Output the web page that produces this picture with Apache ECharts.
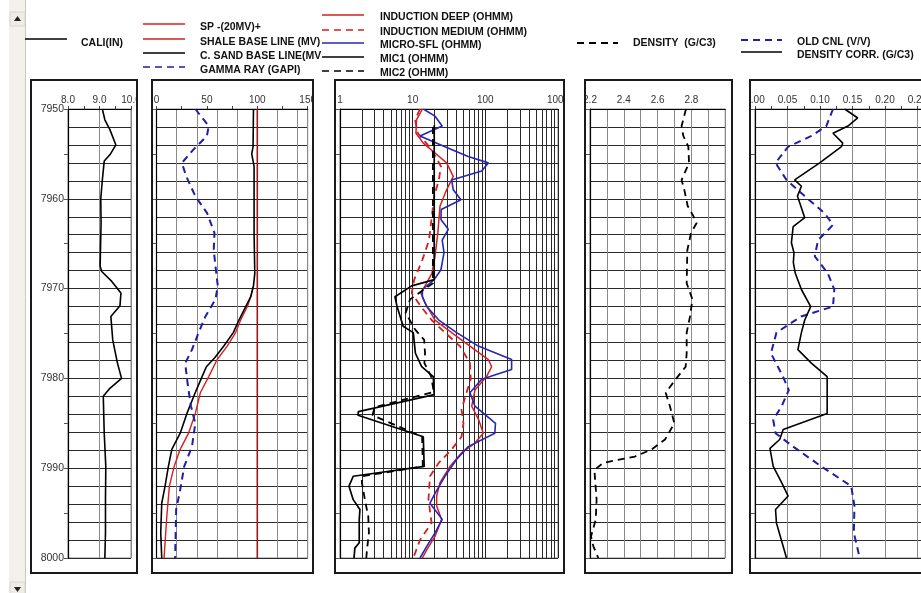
<!DOCTYPE html>
<html><head><meta charset="utf-8">
<script src="https://cdn.jsdelivr.net/npm/echarts@6/dist/echarts.min.js"></script>
<style>html,body{margin:0;padding:0;background:#fff}#c{width:921px;height:593px}</style>
</head><body><div id="c"></div>
<script>
// ---------- DATA ----------
const depthMin = 7950, depthMax = 8000;

const caliDepth = [7950.0,7951.2,7952.3,7954.0,7955.1,7955.8,7957.9,7960.0,7962.7,7967.5,7968.1,7969.2,7970.5,7971.9,7973.1,7975.7,7978.3,7980.0,7981.1,7982.0,7986.1,7989.8,7993.5,7997.2,8000.0];
const caliVal   = [9.09,9.17,9.33,9.52,9.33,9.15,9.09,9.04,9.05,9.02,9.07,9.39,9.68,9.65,9.36,9.42,9.57,9.70,9.33,9.12,9.15,9.20,9.19,9.19,9.17];

const grDepth = [7950.0,7951.9,7953.0,7954.5,7956.0,7957.5,7959.7,7961.6,7963.8,7965.7,7967.5,7969.7,7971.2,7973.1,7974.9,7976.8,7978.3,7980.0,7981.3,7983.1,7985.0,7987.6,7989.8,7992.4,7994.6,8000.0];
const grVal   = [38.5,51.8,50,36.8,25.2,29.5,38.5,50.2,57.5,56.8,58.5,60.8,58.5,48.5,41.8,35.2,28.5,30.2,31.8,34.2,38.5,35.2,27.5,23.5,19.5,18.5];

const sandDepth = [7950.0,7954.2,7955.0,7955.6,7956.4,7963.8,7968.3,7969.7,7970.9,7972.0,7973.5,7974.9,7976.4,7977.7,7978.7,7979.8,7981.3,7983.9,7986.1,7987.9,7989.8,7992.0,7993.9,7997.2,8000.0];
const sandVal   = [96.2,95.8,94.5,95.5,96.8,96.8,97.5,96.2,93.5,88.5,81.8,76.2,66.8,57.8,49.5,45.2,39.5,30.2,23.5,15.2,11.8,8.5,5.2,4.2,5.2];

const spDepth = [7969.7,7970.9,7972.0,7973.5,7974.9,7976.4,7977.9,7979.8,7981.6,7983.9,7986.1,7987.9,7989.8,7992.0,7995.4,8000.0];
const spVal   = [96.2,93.5,90.2,83.5,78.5,70.2,60.2,51.8,43.5,38.5,31.8,23.5,17.5,12.8,10.2,7.5];

const shaleDepth = [7950, 8000];
const shaleVal   = [100, 100];

const ildDepth = [7950.0,7951.2,7952.7,7953.8,7954.9,7956.0,7957.5,7959.0,7960.8,7963.8,7966.4,7968.3,7969.7,7970.5,7971.6,7973.5,7974.9,7976.4,7977.9,7978.7,7979.8,7981.3,7983.1,7984.6,7986.1,7987.2,7988.3,7989.8,7991.6,7993.1,7994.2,7995.7,7997.6,7999.1,8000.0];
const ildVal   = [13.6,11.3,11.1,14,20.3,29.3,36.2,29.3,23.8,22.2,20.3,18.4,14.8,13,14.8,20.3,34.4,61.4,110,122,104,72,65,81,93.6,72,47,32.6,23.8,21.4,21.4,25,20.3,15.6,13.6];

const ilmDepth = [7950.0,7951.2,7952.7,7954.5,7956.4,7957.9,7959.7,7961.9,7964.6,7966.8,7969.0,7970.5,7972.0,7973.5,7974.9,7976.4,7978.3,7980.1,7981.6,7983.5,7985.0,7986.5,7987.9,7989.4,7990.9,7993.5,7996.1,7998.0,8000.0];
const ilmVal   = [12.6,10.8,11.8,18.2,24.5,22.9,19.8,18.4,16.8,13.6,10.5,9.7,13,18.2,27.8,44.7,61.4,63,55,47,50,47,34.4,22.9,17.3,16.5,18.2,12.6,10.2];

const msflDepth = [7950.0,7950.8,7951.9,7953.0,7954.2,7955.3,7956.0,7956.9,7957.9,7959.0,7960.1,7961.2,7962.3,7963.4,7964.6,7966.0,7967.9,7969.0,7970.1,7970.9,7972.0,7973.5,7974.9,7976.4,7977.9,7979.0,7980.1,7981.6,7983.1,7985.0,7986.1,7987.6,7989.0,7990.9,7992.8,7993.9,7995.7,7997.2,7998.7,8000.0];
const msflVal   = [14,20.3,25.5,12.6,27.8,58.2,110,89,34.4,36.2,46.2,24.7,24.5,30.9,25.5,27,24.5,19.8,13.6,13.6,15.6,22.9,40.3,80,230,230,89,61.4,72,138,135,58.2,40.3,27.8,20.3,17.3,25.5,20.3,15.6,12.6];

const mic1Depth = [7951.8,7969.0,7969.7,7970.9,7972.0,7974.2,7974.9,7977.2,7978.7,7979.8,7981.8,7983.7,7984.1,7986.5,7989.8,7990.9,7992.0,7993.5,7994.6,7995.7,7998.3,7998.9,8000.0];
const mic1Val   = [19.8,19.8,9.7,5.7,6.1,7.4,10.2,10.9,13.3,19.2,19.8,1.79,1.77,14,14.4,1.52,1.33,1.52,1.88,1.84,1.84,1.6,1.56];

const mic2Depth = [7952.0,7969.4,7971.2,7972.7,7974.6,7975.7,7977.2,7978.3,7979.8,7981.5,7983.2,7984.1,7986.5,7989.8,7990.9,7991.6,7993.5,7995.4,7997.2,7999.1,8000.0];
const mic2Val   = [19.0,19.0,9.2,8.0,10.9,14.4,14.8,14.5,18,19.5,3.0,2.8,13.5,13.8,2.0,2.0,2.2,2.45,2.5,2.35,2.3];

const rhobDepth = [7950.0,7951.9,7953.0,7954.2,7956.0,7957.9,7959.0,7960.8,7961.9,7962.7,7963.8,7965.7,7969.4,7971.2,7973.1,7974.9,7977.2,7978.7,7980.1,7981.6,7983.1,7985.0,7986.8,7987.9,7988.7,7989.4,7990.2,7993.5,7995.7,7997.6,7998.7,8000.0];
const rhobVal   = [2.768,2.742,2.752,2.782,2.786,2.742,2.758,2.778,2.811,2.831,2.798,2.776,2.772,2.806,2.792,2.772,2.772,2.766,2.707,2.648,2.673,2.699,2.644,2.565,2.466,2.279,2.226,2.239,2.234,2.206,2.22,2.249];

const cnlDepth = [7950.0,7951.9,7953.0,7954.2,7956.0,7957.9,7959.7,7961.6,7962.9,7964.6,7966.4,7968.3,7970.1,7972.0,7973.1,7974.9,7977.2,7979.8,7981.3,7983.1,7984.6,7986.1,7987.6,7989.8,7992.0,7994.2,7997.2,7998.7,8000.0];
const cnlVal   = [0.12,0.1097,0.0867,0.051,0.0316,0.0485,0.0765,0.107,0.12,0.097,0.092,0.112,0.122,0.12,0.071,0.033,0.0245,0.043,0.052,0.041,0.028,0.0316,0.0587,0.102,0.148,0.153,0.152,0.157,0.161];

const dcorDepth = [7950.0,7951.0,7951.9,7952.7,7953.8,7954.2,7956.0,7957.9,7958.6,7959.7,7962.1,7963.1,7964.9,7966.0,7967.1,7968.3,7970.1,7972.0,7973.5,7974.9,7976.8,7978.3,7979.8,7983.9,7985.7,7986.8,7987.8,7989.8,7991.6,7993.1,7994.6,7996.1,8000.0];
const dcorVal   = [0.138,0.158,0.143,0.12,0.135,0.133,0.0995,0.061,0.0714,0.0653,0.0765,0.0587,0.056,0.060,0.059,0.062,0.0714,0.0857,0.0765,0.0714,0.066,0.0867,0.111,0.111,0.0434,0.038,0.023,0.028,0.041,0.051,0.0316,0.033,0.0485];

const logMinorTicks = [2,3,4,5,6,7,8,9,20,30,40,50,60,70,80,90,200,300,400,500,600,700,800,900];

const legendCali  = ['CALI(IN)'];
const legendSP    = ['SP -(20MV)+','SHALE BASE LINE (MV)','C. SAND BASE LINE(MV','GAMMA RAY (GAPI)'];
const legendRes   = ['INDUCTION DEEP (OHMM)','INDUCTION MEDIUM (OHMM)','MICRO-SFL (OHMM)','MIC1 (OHMM)','MIC2 (OHMM)'];
const legendDen   = ['DENSITY  (G/C3)'];
const legendNeu   = ['OLD CNL (V/V)','DENSITY CORR. (G/C3)'];

// ---------- BUILD ----------
const pairs = (vals, depths) => vals.map((v, i) => [v, depths[i]]);
const RED = '#D42020', DRED = '#A81414', BLUE = '#1E1EAA', BLK = '#000';
const labelFont = {fontFamily: 'Liberation Sans, Arial, sans-serif', fontSize: 10, color: '#333'};

const gridTop = 109, gridH = 449;
const grids = [
  {left: 68, width: 63},
  {left: 156.5, width: 151.2},
  {left: 340, width: 218},
  {left: 590, width: 135.2},
  {left: 755, width: 195}
].map(g => Object.assign({top: gridTop, height: gridH, show: true, borderColor: '#888', borderWidth: 1, backgroundColor: 'transparent', containLabel: false, outerBoundsMode: 'none'}, g));

const xA = (gi, o) => Object.assign({
  gridIndex: gi, type: 'value', position: 'top',
  axisLine: {show: true, onZero: false, lineStyle: {color: '#000', width: 1.2}},
  axisTick: {show: true, length: 3, lineStyle: {color: '#444'}},
  axisLabel: Object.assign({margin: 4}, labelFont),
  splitLine: {show: false}
}, o);
const xB = (gi, o) => Object.assign({
  gridIndex: gi, type: 'value', position: 'top',
  axisLine: {show: false}, axisTick: {show: false}, axisLabel: {show: false},
  splitLine: {show: true, lineStyle: {color: '#8a8a8a', width: 1}}
}, o);

const xAxes = [
  xA(0, {min: 8, max: 10, interval: 0.5, axisLabel: Object.assign({margin: 4, formatter: v => Math.abs(v - Math.round(v)) < 1e-6 ? v.toFixed(1) : ''}, labelFont)}),
  xB(0, {min: 8, max: 10, interval: 1}),
  xA(1, {min: 0, max: 150, interval: 25, axisLabel: Object.assign({margin: 4, formatter: v => (Math.round(v) % 50 === 0) ? String(Math.round(v)) : ''}, labelFont)}),
  xB(1, {min: 0, max: 150, interval: 20}),
  xA(2, {type: 'log', logBase: 10, min: 1, max: 1000, axisTick: {show: false},
         splitLine: {show: true, lineStyle: {color: '#222', width: 1}},
         axisLabel: Object.assign({margin: 4, formatter: v => String(Math.round(v))}, labelFont)}),
  xA(3, {min: 2.2, max: 3.0, interval: 0.1, axisTick: {show: false},
         splitLine: {show: true, lineStyle: {color: '#8a8a8a', width: 1}},
         axisLabel: Object.assign({margin: 4, formatter: v => { const k = Math.round(v * 10); return (k % 2 === 0 && k < 30) ? (k / 10).toFixed(1) : ''; }}, labelFont)}),
  xA(4, {min: 0, max: 0.3, interval: 0.025, axisLabel: Object.assign({margin: 4, formatter: v => { const k = Math.round(v * 1000); return k % 50 === 0 ? (k / 1000).toFixed(2) : ''; }}, labelFont)}),
  xB(4, {min: 0, max: 0.3, interval: 0.05})
];

const yAxes = [];
for (let i = 0; i < 5; i++) {
  yAxes.push({
    gridIndex: i, type: 'value', inverse: true, min: depthMin, max: depthMax, interval: 2, position: 'left',
    axisLine: {show: true, onZero: false, lineStyle: {color: '#000', width: 1.2}},
    axisTick: {show: false}, axisLabel: {show: false},
    splitLine: {show: true, lineStyle: {color: '#2a2a2a', width: 1}}
  });
}
for (let i = 0; i < 5; i++) {
  yAxes.push({
    gridIndex: i, type: 'value', inverse: true, min: depthMin, max: depthMax, interval: 5, position: 'left',
    axisLine: {show: false},
    axisTick: {show: true, length: 4, lineStyle: {color: '#555'}},
    axisLabel: i === 0 ? Object.assign({margin: 4, formatter: v => (Math.round(v) % 10 === 0 ? String(Math.round(v)) : '')}, labelFont, {fontSize: 10.5}) : {show: false},
    splitLine: {show: false}
  });
}

const line = (name, data, xi, yi, color, width, dash) => ({
  name, type: 'line', data, xAxisIndex: xi, yAxisIndex: yi,
  showSymbol: false, symbol: 'none', animation: false, silent: true, z: 5,
  lineStyle: {color, width, type: dash ? [7, 5] : 'solid'}
});

const series = [
  line('CALI', pairs(caliVal, caliDepth), 0, 0, BLK, 1.6),
  line('SHALE', pairs(shaleVal, shaleDepth), 2, 1, DRED, 1.6),
  line('SP', pairs(spVal, spDepth), 2, 1, RED, 1.4),
  line('SAND', pairs(sandVal, sandDepth), 2, 1, BLK, 1.6),
  line('GR', pairs(grVal, grDepth), 2, 1, BLUE, 2, true),
  {
    name: 'loggrid', type: 'line', data: [], xAxisIndex: 4, yAxisIndex: 2, silent: true, animation: false, z: 1,
    markLine: {silent: true, animation: false, symbol: ['none', 'none'], label: {show: false},
      lineStyle: {color: '#2a2a2a', width: 1, type: 'solid'}, emphasis: {disabled: true},
      data: logMinorTicks.map(v => ({xAxis: v}))}
  },
  line('ILM', pairs(ilmVal, ilmDepth), 4, 2, RED, 1.8, true),
  line('ILD', pairs(ildVal, ildDepth), 4, 2, RED, 1.5),
  line('MSFL', pairs(msflVal, msflDepth), 4, 2, '#2626B8', 1.6),
  line('MIC2', pairs(mic2Val, mic2Depth), 4, 2, BLK, 1.8, true),
  line('MIC1', pairs(mic1Val, mic1Depth), 4, 2, BLK, 1.7),
  line('RHOB', pairs(rhobVal, rhobDepth), 5, 3, BLK, 1.8, true),
  line('CNL', pairs(cnlVal, cnlDepth), 6, 4, BLUE, 2, true),
  line('DCOR', pairs(dcorVal, dcorDepth), 6, 4, BLK, 1.6)
];

// ---------- GRAPHICS (frames, header legend, scrollbar) ----------
const txtStyle = {fontFamily: 'Liberation Sans, Arial, sans-serif', fontSize: 10.5, fontWeight: 'bold', fill: '#111', verticalAlign: 'middle'};
const g = [];
const seg = (x1, y1, x2, y2, color, w, dash) => g.push({type: 'line', z: 120, shape: {x1, y1, x2, y2}, style: {stroke: color, lineWidth: w, lineDash: dash ? [7, 5] : null}});
const txt = (x, y, t) => g.push({type: 'text', z: 120, x, y, style: Object.assign({text: t}, txtStyle)});

// scrollbar
g.push({type: 'rect', z: 110, shape: {x: 9, y: 0, width: 16, height: 593}, style: {fill: '#F3F1EA', stroke: null}});
g.push({type: 'line', z: 111, shape: {x1: 25.5, y1: 0, x2: 25.5, y2: 593}, style: {stroke: '#C8C6BE', lineWidth: 1}});
g.push({type: 'rect', z: 111, shape: {x: 10, y: 12, width: 15, height: 14}, style: {fill: '#EEECE4', stroke: '#D8D6CE'}});
g.push({type: 'polygon', z: 112, shape: {points: [[14, 21], [21, 21], [17.5, 16]]}, style: {fill: '#222'}});
g.push({type: 'rect', z: 111, shape: {x: 10, y: 582, width: 15, height: 14}, style: {fill: '#EEECE4', stroke: '#D8D6CE'}});
g.push({type: 'polygon', z: 112, shape: {points: [[14, 587], [21, 587], [17.5, 592]]}, style: {fill: '#222'}});

// masks for clipped header labels
[[26, 31], [137, 152], [313, 335], [564, 585], [732, 750]].forEach(([a, b]) =>
  g.push({type: 'rect', z: 100, shape: {x: a, y: 82, width: b - a, height: 26}, style: {fill: '#fff'}}));

// frames
[[31, 137], [152, 313], [335, 564], [585, 732], [750, 960]].forEach(([a, b]) =>
  g.push({type: 'rect', z: 101, shape: {x: a, y: 80, width: b - a, height: 493}, style: {fill: null, stroke: '#1a1a1a', lineWidth: 2}}));

// legend
seg(25, 39, 67, 39, BLK, 1.6); txt(81, 43, legendCali[0]);
const spCols = [[RED, false], [RED, false], [BLK, false], [BLUE, true]];
[24, 39, 53, 67].forEach((y, i) => { seg(143, y, 185, y, spCols[i][0], 1.6, spCols[i][1]); txt(200, y + 3, legendSP[i]); });
const resCols = [[RED, false], [RED, true], ['#2626B8', false], [BLK, false], [BLK, true]];
[15, 30, 43, 57, 71].forEach((y, i) => { seg(322, y, 364, y, resCols[i][0], 1.6, resCols[i][1]); txt(380, y + 2.5, legendRes[i]); });
seg(577, 43, 618, 43, BLK, 1.8, true); txt(633, 43.5, legendDen[0]);
seg(741, 40, 782, 40, BLUE, 2, true); txt(797, 42, legendNeu[0]);
seg(741, 52, 782, 52, BLK, 1.6); txt(797, 55, legendNeu[1]);

const chart = echarts.init(document.getElementById('c'), null, {renderer: 'canvas'});
chart.setOption({
  backgroundColor: '#fff',
  animation: false,
  grid: grids,
  xAxis: xAxes,
  yAxis: yAxes,
  series,
  graphic: {elements: g}
});
</script>
</body></html>
